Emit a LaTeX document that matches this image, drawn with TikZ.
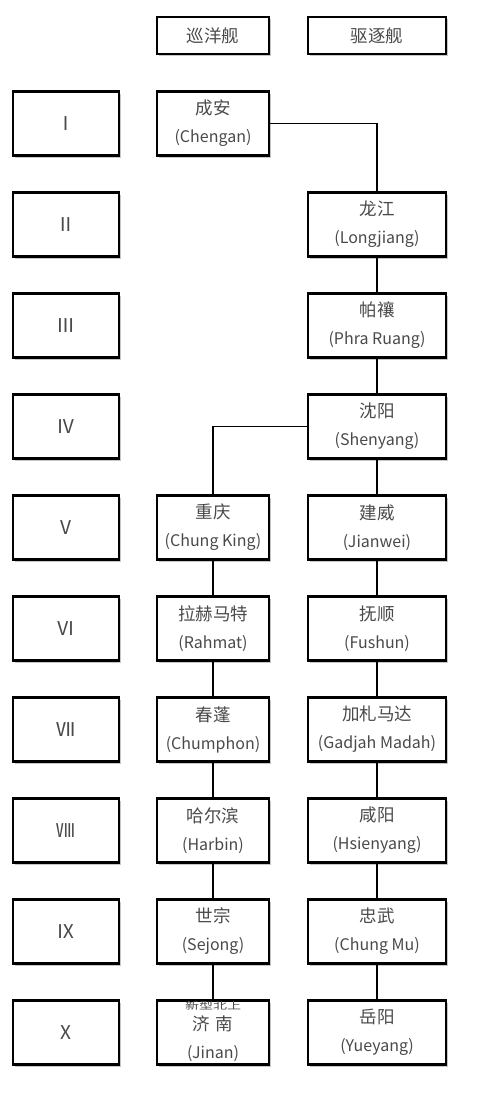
\documentclass[tikz,border=0pt]{standalone}
\usepackage{fontspec}
\setmainfont{Noto Sans CJK SC}
\usetikzlibrary{shadows}
\definecolor{txtgray}{HTML}{4A4A4A}

\tikzset{
	box/.style={draw=black, line width=2.2pt, fill=white, text=txtgray, align=center, inner sep=0pt,
		drop shadow={shadow xshift=2pt, shadow yshift=-2.5pt, opacity=0.45},
		font=\fontsize{16}{28}\selectfont},
	numbox/.style={box, minimum width=106pt, minimum height=64pt, font=\fontsize{19}{20}\selectfont},
	cruiser/.style={box, minimum width=112pt, minimum height=64pt},
	destroyer/.style={box, minimum width=138pt, minimum height=64pt},
	link/.style={draw=black, line width=1.2pt}
}
\newcommand{\ship}[2]{{\fontsize{17.5}{28}\selectfont #1}\\(#2)}

\begin{document}
\begin{tikzpicture}[x=1pt,y=1pt]
			\useasboundingbox (0,0) rectangle (500,-1094);
			
			% headers
			\node[cruiser, minimum height=37pt, font=\fontsize{17.5}{20}\selectfont] (hcru) at (213,-35.5) {巡洋舰};
			\node[destroyer, minimum height=37pt, font=\fontsize{17.5}{20}\selectfont] (hdes) at (377,-35.5) {驱逐舰};
			
			% generations
			\node[numbox] (g1) at (66,-123.5) {Ⅰ};
			\node[numbox] (g2) at (66,-224.5) {Ⅱ};
			\node[numbox] (g3) at (66,-325.5) {Ⅲ};
			\node[numbox] (g4) at (66,-426.5) {Ⅳ};
			\node[numbox] (g5) at (66,-527.5) {Ⅴ};
			\node[numbox] (g6) at (66,-628.5) {Ⅵ};
			\node[numbox] (g7) at (66,-729.5) {Ⅶ};
			\node[numbox] (g8) at (66,-830.5) {Ⅷ};
			\node[numbox] (g9) at (66,-931.5) {Ⅸ};
			\node[numbox] (g10) at (66,-1032.5) {Ⅹ};
			
			% cruisers
			\node[cruiser] (chengan) at (213,-123.5) {\ship{成安}{Chengan}};
			\node[cruiser] (chungking) at (213,-527.5) {\ship{重庆}{Chung King}};
			\node[cruiser] (rahmat) at (213,-628.5) {\ship{拉赫马特}{Rahmat}};
			\node[cruiser] (chumphon) at (213,-729.5) {\ship{春蓬}{Chumphon}};
			\node[cruiser] (harbin) at (213,-830.5) {\ship{哈尔滨}{Harbin}};
			\node[cruiser] (sejong) at (213,-931.5) {\ship{世宗}{Sejong}};
			\node[cruiser] (jinan) at (213,-1032.5) {};
			\node[text=txtgray, align=center, inner sep=0pt, font=\fontsize{16}{28}\selectfont] (jinantxt) at ([yshift=-6pt]jinan.center) {\ship{济\hspace{6pt}南}{Jinan}};
			\node[text=txtgray, font=\fontsize{14}{14}\selectfont, inner sep=0pt] (jinanold) at ([yshift=-6pt]jinan.north) {\scalebox{1}[0.7]{新型北上}};
			
			% destroyers
			\node[destroyer] (longjiang) at (377,-224.5) {\ship{龙江}{Longjiang}};
			\node[destroyer] (phraruang) at (377,-325.5) {\ship{帕禳}{Phra Ruang}};
			\node[destroyer] (shenyang) at (377,-426.5) {\ship{沈阳}{Shenyang}};
			\node[destroyer] (jianwei) at (377,-527.5) {\ship{建威}{Jianwei}};
			\node[destroyer] (fushun) at (377,-628.5) {\ship{抚顺}{Fushun}};
			\node[destroyer] (gadjah) at (377,-729.5) {\ship{加札马达}{Gadjah Madah}};
			\node[destroyer] (hsienyang) at (377,-830.5) {\ship{咸阳}{Hsienyang}};
			\node[destroyer] (chungmu) at (377,-931.5) {\ship{忠武}{Chung Mu}};
			\node[destroyer] (yueyang) at (377,-1032.5) {\ship{岳阳}{Yueyang}};
			
			% lines
			\draw[link] (chengan.east) -| (longjiang.north);
			\draw[link] (longjiang.south) -- (phraruang.north);
			\draw[link] (phraruang.south) -- (shenyang.north);
			\draw[link] (shenyang.west) -| (chungking.north);
			\draw[link] (shenyang.south) -- (jianwei.north);
			\draw[link] (jianwei.south) -- (fushun.north);
			\draw[link] (fushun.south) -- (gadjah.north);
			\draw[link] (gadjah.south) -- (hsienyang.north);
			\draw[link] (hsienyang.south) -- (chungmu.north);
			\draw[link] (chungmu.south) -- (yueyang.north);
			\draw[link] (chungking.south) -- (rahmat.north);
			\draw[link] (rahmat.south) -- (chumphon.north);
			\draw[link] (chumphon.south) -- (harbin.north);
			\draw[link] (harbin.south) -- (sejong.north);
			\draw[link] (sejong.south) -- (jinan.north);
		\end{tikzpicture}
\end{document}
